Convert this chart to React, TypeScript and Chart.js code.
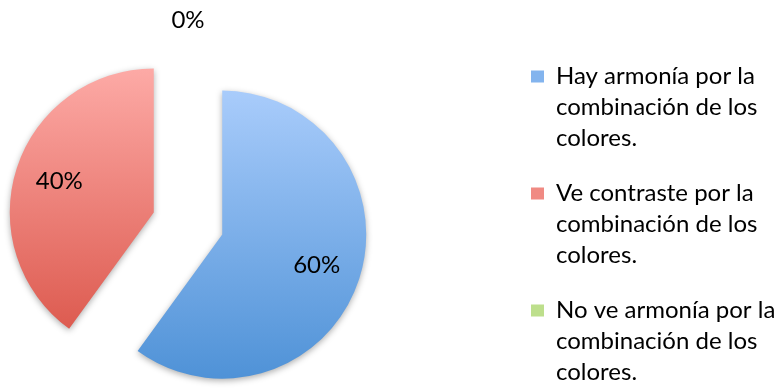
import React, { useEffect, useRef } from 'react';
import { Chart, ArcElement, PieController, registerables } from 'chart.js';

// ---------- data ----------
const categories: string[][] = [
  ['Hay armonía por la', 'combinación de los', 'colores.'],
  ['Ve contraste por la', 'combinación de los', 'colores.'],
  ['No ve armonía por la', 'combinación de los', 'colores.'],
];
const percentages = [60, 40, 0];
const topColors = ['#a9ccfb', '#fdaaa6', '#d6eeb2'];
const bottomColors = ['#4f92d7', '#dd5b50', '#98c95a'];
const legendColors = ['#83b4ee', '#f08a83', '#bddf8c'];

// ---------- style ----------
const W = 784;
const H = 388;
const FONT = 'Lato';
const FONT_SIZE = 24;
const LINE_HEIGHT = 31;
const ITEM_GAP = 24;
const BOX_W = 13;
const BOX_H = 12;
const RADIUS = 144;
const EXPLODE = 36;
const CENTER_X = 188;
const CENTER_Y = 223.5;
const TEXT_X = 556;
const FIRST_MID = 76.5;
const INSIDE = 0.69;
const OUTSIDE = 1.16;

const bottomOf = new Map(topColors.map((c, i) => [c, bottomColors[i]]));

class ExplodedArc extends ArcElement {
  static id = 'explodedArc';
  draw(ctx: CanvasRenderingContext2D) {
    const self = this as any;
    const { x, y, startAngle, endAngle, outerRadius } = self.getProps(['x', 'y', 'startAngle', 'endAngle', 'outerRadius']);
    if (!(endAngle - startAngle > 0)) return;
    const saved = self.options;
    const explode = saved.offset || 0;
    const mid = (startAngle + endAngle) / 2;
    // vertical extent of the slice for its gradient
    let minY = y;
    let maxY = y;
    const test = (a: number) => {
      const py = y + Math.sin(a) * outerRadius;
      minY = Math.min(minY, py);
      maxY = Math.max(maxY, py);
    };
    test(startAngle);
    test(endAngle);
    [-Math.PI / 2, Math.PI / 2, (3 * Math.PI) / 2].forEach((a) => {
      if (a >= startAngle && a <= endAngle) test(a);
    });
    const top = saved.backgroundColor;
    const g = ctx.createLinearGradient(0, minY, 0, maxY);
    g.addColorStop(0, top);
    g.addColorStop(1, bottomOf.get(top) || top);
    self.options = { ...saved, backgroundColor: g, offset: 0 };
    ctx.save();
    ctx.translate(Math.cos(mid) * explode, Math.sin(mid) * explode);
    ctx.shadowColor = 'rgba(0,0,0,0.32)';
    ctx.shadowBlur = 6;
    ctx.shadowOffsetX = 0;
    ctx.shadowOffsetY = 2;
    super.draw(ctx);
    ctx.restore();
    self.options = saved;
  }
}

class ExplodedPieController extends PieController {
  static id = 'explodedPie';
  static defaults = { dataElementType: 'explodedArc' };
}

Chart.register(...registerables, ExplodedArc, ExplodedPieController);

const pctLabels = {
  id: 'pctLabels',
  afterDatasetsDraw(chart: any) {
    const meta = chart.getDatasetMeta(0);
    const ctx: CanvasRenderingContext2D = chart.ctx;
    ctx.save();
    ctx.font = `${FONT_SIZE}px ${FONT}`;
    ctx.fillStyle = '#000';
    ctx.textAlign = 'center';
    ctx.textBaseline = 'middle';
    meta.data.forEach((arc: any, i: number) => {
      const { x, y, startAngle, endAngle, outerRadius } = arc.getProps(['x', 'y', 'startAngle', 'endAngle', 'outerRadius'], true);
      const mid = (startAngle + endAngle) / 2;
      const r = EXPLODE + outerRadius * (endAngle - startAngle > 0 ? INSIDE : OUTSIDE);
      ctx.fillText(`${percentages[i]}%`, x + Math.cos(mid) * r, y + Math.sin(mid) * r);
    });
    ctx.restore();
  },
};

export default function App() {
  const ref = useRef<HTMLCanvasElement>(null);
  useEffect(() => {
    document.body.style.margin = '0';
    const canvas = ref.current!;
    const m = canvas.getContext('2d')!;
    m.font = `${FONT_SIZE}px ${FONT}`;
    const textW = Math.max(
      ...categories.map((lines) => m.measureText(lines.reduce((a, b) => (a.length > b.length ? a : b))).width)
    );
    // horizontal layout: chart area [0, legend.left], legend at the right edge of the canvas
    const legendW = ITEM_GAP + BOX_W + FONT_SIZE / 2 + textW + 10;
    const legendLeftPage = TEXT_X - (BOX_W + FONT_SIZE / 2 + ITEM_GAP);
    const shiftX = legendLeftPage - 2 * CENTER_X;
    const canvasW = Math.ceil(legendLeftPage + shiftX + legendW);
    // vertical layout: legend aligned to the bottom of the chart area
    const colH = categories.reduce((s, lines) => s + lines.length * LINE_HEIGHT + ITEM_GAP, 0);
    const bottom = FIRST_MID - FONT_SIZE / 2 + colH;
    const canvasH = Math.ceil(bottom);
    const topPad = 2 * CENTER_Y - bottom;

    canvas.width = canvasW;
    canvas.height = canvasH;
    canvas.style.left = `${-shiftX}px`;

    const chart = new Chart(canvas, {
      type: 'explodedPie' as any,
      data: {
        labels: categories as any,
        datasets: [
          {
            data: percentages,
            backgroundColor: topColors,
            borderWidth: 0,
            offset: EXPLODE,
            radius: RADIUS,
          } as any,
        ],
      },
      options: {
        responsive: false,
        animation: false,
        events: [],
        layout: { padding: { left: 0, right: canvasW - (legendLeftPage + shiftX + legendW), top: topPad, bottom: canvasH - bottom } },
        plugins: {
          tooltip: { enabled: false },
          legend: {
            position: 'right',
            align: 'end',
            labels: {
              boxWidth: BOX_W,
              boxHeight: BOX_H,
              padding: ITEM_GAP,
              color: '#000',
              font: { family: FONT, size: FONT_SIZE, lineHeight: `${LINE_HEIGHT}px` } as any,
              generateLabels: () =>
                categories.map((lines, i) => ({
                  text: lines as any,
                  fillStyle: legendColors[i],
                  strokeStyle: legendColors[i],
                  lineWidth: 0,
                  hidden: false,
                  index: i,
                })),
            },
          },
        },
      } as any,
      plugins: [pctLabels],
    });
    return () => chart.destroy();
  }, []);
  return (
    <div style={{ position: 'fixed', left: 0, top: 0, width: W, height: H, overflow: 'hidden', background: '#fff' }}>
      <canvas ref={ref} width={W} height={H} style={{ position: 'absolute', left: 0, top: 0 }} />
    </div>
  );
}
